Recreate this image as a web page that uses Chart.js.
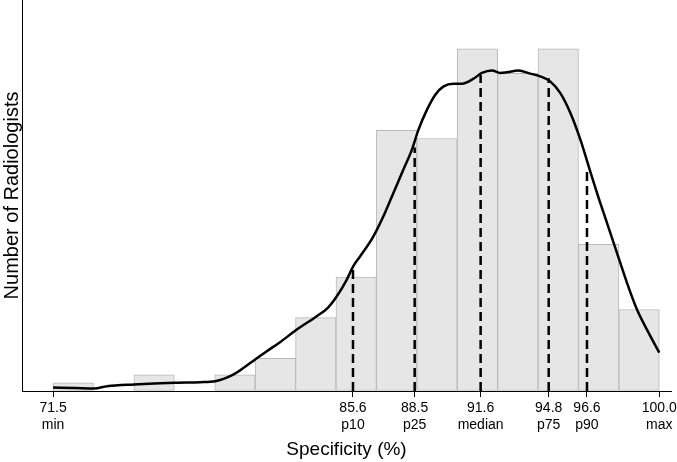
<!DOCTYPE html>
<html>
<head>
<meta charset="utf-8">
<script src="https://cdn.jsdelivr.net/npm/chart.js@4"></script>
<style>
  body { margin: 0; background: #fff; }
  #wrap { width: 677px; height: 462px; }
</style>
</head>
<body>
<div id="wrap"><canvas id="chartSpec"></canvas></div>
<script>
// histogram bins (centre of each 1.9-point bin) and radiologist counts
const binCenters = [72.45, 74.35, 76.25, 78.15, 80.05, 81.95, 83.85, 85.75, 87.65, 89.55, 91.45, 93.35, 95.25, 97.15, 99.05];
const binCounts = [1, 0, 2, 0, 2, 4, 9, 14, 32, 31, 42, 39, 42, 18, 10];

// smoothed density curve (specificity, scaled count)
const curveX = [71.5, 72.53, 73.43, 74.04, 75.31, 77.24, 78.41, 79.12, 79.97, 80.48, 81.0, 81.55, 82.17, 82.96, 83.9, 84.43, 84.84, 85.31, 85.61, 85.94, 86.56, 87.03, 87.5, 87.97, 88.37, 88.68, 89.08, 89.47, 89.86, 90.33, 90.72, 91.25, 91.66, 92.13, 92.52, 92.84, 93.38, 93.93, 94.4, 94.87, 95.34, 95.82, 96.29, 96.68, 97.07, 97.54, 98.01, 98.48, 98.95, 99.5, 100.0];
const curveY = [0.43, 0.37, 0.31, 0.59, 0.8, 1.01, 1.08, 1.2, 2.02, 2.88, 3.87, 4.88, 5.99, 7.55, 9.18, 10.25, 11.63, 13.68, 15.31, 16.54, 18.99, 21.45, 24.32, 27.18, 29.63, 32.09, 34.54, 36.38, 37.4, 37.73, 37.73, 38.31, 39.04, 39.36, 39.04, 39.12, 39.33, 38.96, 38.63, 38.01, 36.59, 34.13, 30.86, 27.58, 24.32, 20.64, 16.96, 13.28, 10.0, 7.14, 4.7];

// summary statistics shown on the axis, and where the dashed marks reach
const statValues = [71.5, 85.6, 88.5, 91.6, 94.8, 96.6, 100.0];
const statNames = ["min", "p10", "p25", "median", "p75", "p90", "max"];
const markerValues = [85.6, 88.5, 91.6, 94.8, 96.6];
const markerHeights = [15.3, 29.9, 38.8, 38.4, 27.4];

const xMin = 70.04;
const xMax = 100.55;
const FONT = "'Liberation Sans', Arial, Helvetica, sans-serif";

const markerSets = markerValues.map(function (v, i) {
  return {
    type: "line",
    data: [{ x: v, y: 0 }, { x: v, y: markerHeights[i] }],
    borderColor: "#000",
    borderWidth: 2.5,
    borderDash: [9, 5],
    pointRadius: 0,
    xAxisID: "x",
    order: 1,
  };
});

new Chart(document.getElementById("chartSpec"), {
  type: "bar",
  data: {
    datasets: [
      {
        type: "line",
        data: curveX.map((x, i) => ({ x: x, y: curveY[i] })),
        borderColor: "#000",
        borderWidth: 2.5,
        pointRadius: 0,
        cubicInterpolationMode: "monotone",
        xAxisID: "x",
        order: 0,
      },
      ...markerSets,
      {
        type: "bar",
        data: binCenters.map((x, i) => ({ x: x, y: binCounts[i] })),
        backgroundColor: "#e6e6e6",
        borderColor: "#b8b8b8",
        borderWidth: 1,
        borderSkipped: false,
        grouped: false,
        barPercentage: 1,
        categoryPercentage: 1,
        xAxisID: "xh",
        order: 2,
      },
    ],
  },
  options: {
    responsive: true,
    maintainAspectRatio: false,
    animation: false,
    layout: { padding: { top: 0, right: 6, left: 0, bottom: 0 } },
    plugins: {
      legend: { display: false },
      tooltip: { enabled: false },
    },
    scales: {
      xh: {
        type: "linear",
        display: false,
        offset: false,
        min: xMin,
        max: xMax,
        ticks: { includeBounds: false, stepSize: 5 },
      },
      x: {
        type: "linear",
        offset: false,
        min: xMin,
        max: xMax,
        afterBuildTicks: function (axis) {
          axis.ticks = statValues.map((v) => ({ value: v }));
        },
        afterFit: function (axis) {
          axis.height = 71;
          axis.paddingLeft = 0;
          axis.paddingRight = 0;
        },
        ticks: {
          autoSkip: false,
          maxRotation: 0,
          padding: 3,
          color: "#000",
          font: { family: FONT, size: 14, lineHeight: 1.2 },
          callback: function (value, i) {
            return [statValues[i].toFixed(1), statNames[i]];
          },
        },
        grid: {
          offset: false,
          drawOnChartArea: false,
          drawTicks: true,
          tickLength: 6,
          color: "#000",
        },
        border: { display: true, color: "#000", width: 1 },
        title: {
          display: true,
          text: "Specificity (%)",
          color: "#000",
          font: { family: FONT, size: 19 },
          padding: { top: 0, bottom: 1 },
        },
      },
      y: {
        min: 0,
        max: 48,
        afterFit: function (axis) {
          axis.width = 22;
        },
        ticks: { display: false },
        grid: { drawOnChartArea: false, drawTicks: false },
        border: { display: true, color: "#000", width: 1 },
        title: {
          display: true,
          text: "Number of Radiologists",
          color: "#000",
          font: { family: FONT, size: 20 },
          padding: { top: 0, bottom: 0 },
        },
      },
    },
  },
});
</script>
</body>
</html>
